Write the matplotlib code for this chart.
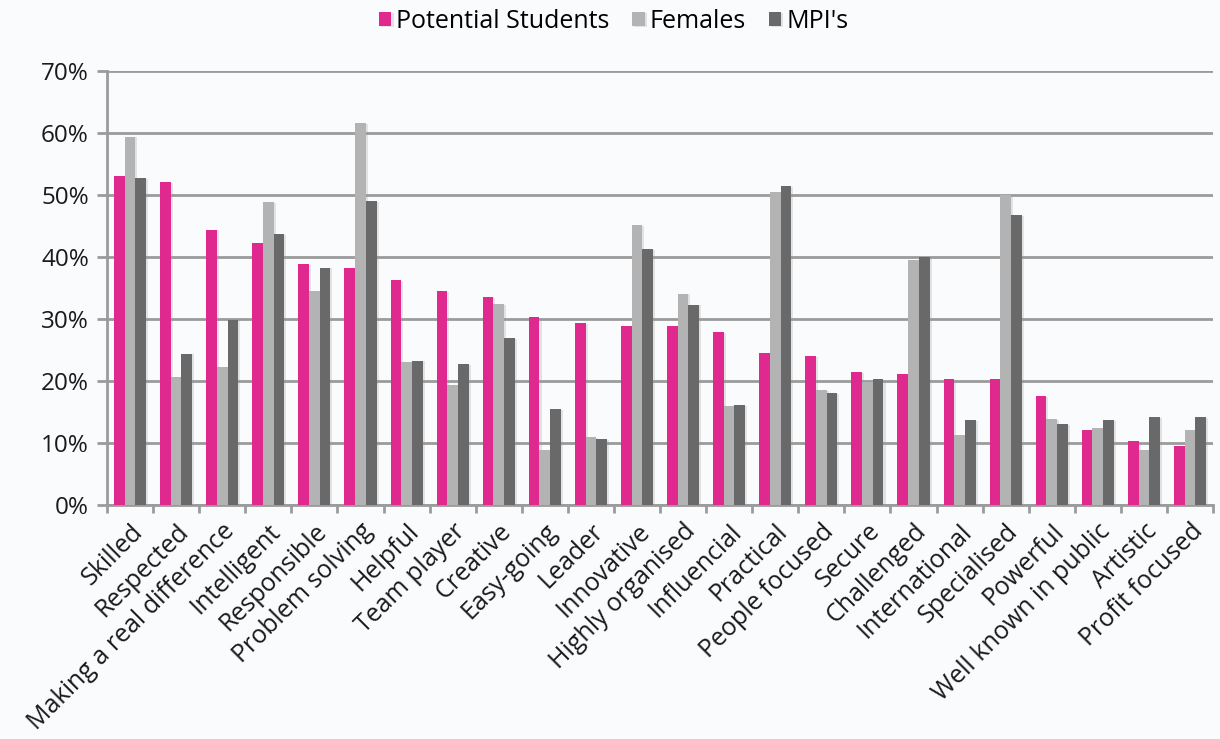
import numpy as np
import matplotlib.pyplot as plt
from matplotlib.ticker import PercentFormatter
import matplotlib.patheffects as pe

plt.rcParams['font.family'] = ['Open Sans', 'DejaVu Sans']

categories = ['Skilled', 'Respected', 'Making a real difference', 'Intelligent',
              'Responsible', 'Problem solving', 'Helpful', 'Team player', 'Creative',
              'Easy-going', 'Leader', 'Innovative', 'Highly organised', 'Influencial',
              'Practical', 'People focused', 'Secure', 'Challenged', 'International',
              'Specialised', 'Powerful', 'Well known in public', 'Artistic',
              'Profit focused']

potential_students = [53.0, 52.1, 44.4, 42.2, 38.9, 38.3, 36.3, 34.5, 33.5, 30.3,
                      29.3, 28.9, 28.9, 27.9, 24.5, 24.0, 21.4, 21.2, 20.3, 20.3,
                      17.6, 12.1, 10.3, 9.6]
females = [59.4, 20.6, 22.3, 48.9, 34.6, 61.6, 23.1, 19.4, 32.4, 8.8,
           10.9, 45.1, 34.1, 16.0, 50.5, 18.5, 19.9, 39.5, 11.3, 50.0,
           13.8, 12.5, 8.8, 12.1]
mpis = [52.7, 24.4, 29.9, 43.7, 38.3, 49.0, 23.3, 22.7, 26.9, 15.5,
        10.6, 41.3, 32.3, 16.1, 51.4, 18.0, 20.3, 40.0, 13.7, 46.7,
        13.0, 13.7, 14.2, 14.2]

series = [("Potential Students", potential_students, '#e0298f'),
          ("Females", females, '#b3b3b3'),
          ("MPI's", mpis, '#696969')]

bg = '#fafbfd'
fig = plt.figure(figsize=(12.2, 7.39), dpi=100, facecolor=bg)
ax = fig.add_axes([0.0877, 0.3166, 0.9066, 0.5873], facecolor=bg)

x = np.arange(len(categories))
w = 0.232
shadow = [pe.SimplePatchShadow(offset=(1.5, -0.5), shadow_rgbFace='#999999', alpha=0.25), pe.Normal()]
for i, (name, vals, col) in enumerate(series):
    ax.bar(x + (i - 1) * w, vals, width=w, color=col, label=name, zorder=3,
           path_effects=shadow)

ax.set_xlim(-0.5, len(categories) - 0.5)
ax.set_ylim(0, 70)
ax.set_yticks(range(0, 71, 10))
ax.yaxis.set_major_formatter(PercentFormatter(decimals=0))
ax.grid(axis='y', color='#9b9b9b', linewidth=2, zorder=0)

ax.set_xticks(x)
ax.set_xticklabels(categories, rotation=45, ha='right', rotation_mode='anchor',
                   fontsize=18, color='#1a1a1a')
ax.set_xticks(np.arange(-0.5, len(categories)), minor=True)
ax.tick_params(axis='x', which='major', length=0, pad=10)
ax.tick_params(axis='x', which='minor', length=6, width=2, color='#9b9b9b')
ax.tick_params(axis='y', length=7, width=2, color='#9b9b9b', labelsize=17.5,
               labelcolor='#1a1a1a', pad=6)

for side in ['top', 'right']:
    ax.spines[side].set_visible(False)
for side in ['left', 'bottom']:
    ax.spines[side].set_color('#9b9b9b')
    ax.spines[side].set_linewidth(2)

ax.legend(loc='upper center', bbox_to_anchor=(0.458, 1.195), ncol=3, frameon=False,
          fontsize=18, handlelength=0.5, handleheight=0.5, handletextpad=0.2,
          columnspacing=0.9)

fig.savefig('out.png', dpi=100, facecolor=bg)
